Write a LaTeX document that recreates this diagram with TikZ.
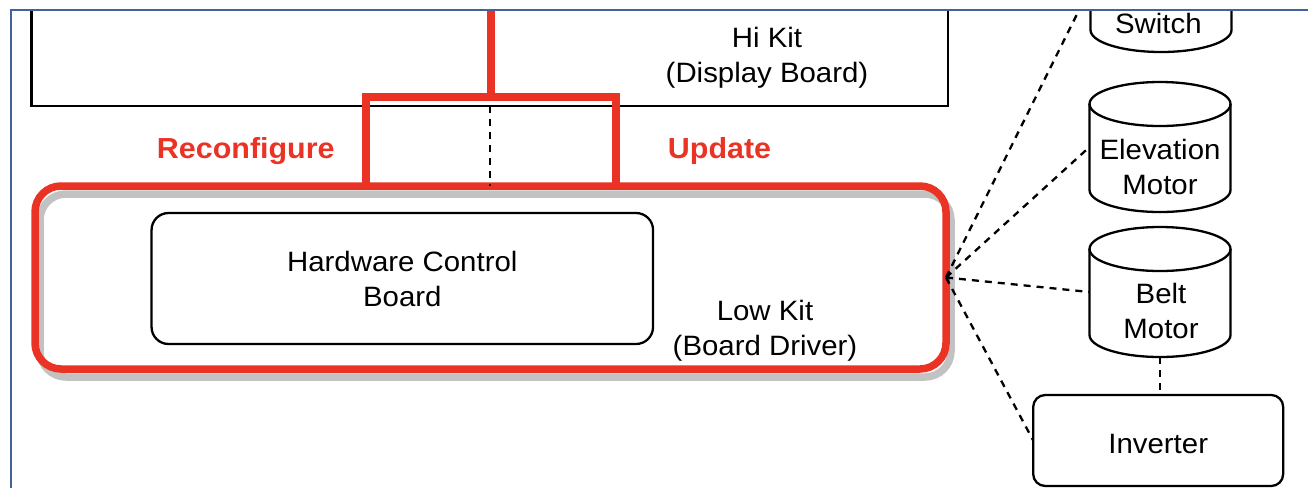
\documentclass[tikz,border=0pt]{standalone}
\usepackage{fontspec}
\setmainfont{Liberation Sans}[FakeStretch=1.05]
\usetikzlibrary{calc}
\pgfdeclarelayer{bg}
\pgfsetlayers{bg,main}
\definecolor{kitred}{RGB}{234,51,37}
\definecolor{frameblue}{RGB}{66,98,155}
\definecolor{shadowgray}{RGB}{194,194,194}
\newcommand{\drawcyl}[1]{%
  \draw[cylline] ($(#1.north west)+(0,22)$) -- ($(#1.south west)+(0,-22)$)
    arc[start angle=180, end angle=360, x radius=70.5pt, y radius=22pt]
    -- ($(#1.north east)+(0,22)$);
  \draw[cylline] ($(#1.north)+(0,22)$) ellipse[x radius=70.5pt, y radius=22pt];}
\begin{document}
\begin{tikzpicture}[x=1pt,y=-1pt,
  every node/.style={inner sep=0pt, outer sep=0pt, font=\fontsize{28}{35}\selectfont},
  box/.style={draw=black, line width=2.3pt},
  txt/.style={align=center},
  redlabel/.style={text=kitred, font=\fontsize{29}{35}\selectfont\bfseries},
  redline/.style={draw=kitred, line width=7.5pt},
  dashline/.style={draw=black, line width=2.3pt, dash pattern=on 7pt off 6pt},
  cylline/.style={draw=black, line width=2.3pt},
  hole/.style={minimum width=141pt, minimum height=130pt},
  framecolor/.style={draw=frameblue, line width=2pt},
]
\useasboundingbox (0,0) rectangle (1308,488);
\begin{scope}
\clip (11,11) rectangle (1308,488);
% Hi Kit
\node[box, minimum width=916.4pt, minimum height=156pt] (hikit) at (489.8,28) {};
\node[txt] (hikitlabel) at (767,57.45) {Hi Kit\\(Display Board)};
% Low Kit
\node[draw=kitred, line width=7.5pt, rounded corners=26pt,
      minimum width=911pt, minimum height=183pt] (lowkit) at (490.5,277.5) {};
\begin{pgfonlayer}{bg}
  \draw[shadowgray, line width=7.5pt, rounded corners=26pt]
    ($(lowkit.north west)+(5,8)$) rectangle ($(lowkit.south east)+(5,8)$);
\end{pgfonlayer}
\node[txt] (lowkitlabel) at (765,330.45) {Low Kit\\(Board Driver)};
\node[box, txt, rounded corners=17pt, minimum width=501.5pt, minimum height=131pt]
  (hcb) at (402.3,278.5) {Hardware Control\\Board};
% labels
\node[redlabel, anchor=base] (reconf) at (245.8,158.3) {Reconfigure};
\node[redlabel, anchor=base] (update) at (719.5,158.3) {Update};
% red connection
\coordinate (rtop) at (491,0);
\coordinate (rjoin) at (491,97);
\coordinate (rleft) at (366,186);
\coordinate (rright) at (616,186);
\draw[redline] (rtop) -- (rjoin);
\draw[redline, line join=miter] (rleft) |- (rjoin) -| (rright);
\draw[dashline] (hikit.south) -- (hikit.south |- lowkit.north);
% cylinders
\node[hole] (switch) at (1161,-13) {};
\node[hole] (elev) at (1160,147) {};
\node[hole] (belt) at (1160,292) {};
\drawcyl{switch}
\drawcyl{elev}
\drawcyl{belt}
\node[anchor=base] (switchlabel) at (1158.4,33) {Switch};
\node[txt] (elevlabel) at (1160,166.5) {Elevation\\Motor};
\node[txt] (beltlabel) at (1161,310.8) {Belt\\Motor};
% inverter
\node[box, rounded corners=12pt, minimum width=250pt, minimum height=91pt,
      text height=25pt, text depth=0pt] (inverter) at (1158.2,440.5) {Inverter};
% dashed connectors
\draw[dashline] (lowkit.east) -- (switch.west);
\draw[dashline] (lowkit.east) -- (elev.west);
\draw[dashline] (lowkit.east) -- (belt.west);
\draw[dashline] (lowkit.east) -- (inverter.west);
\draw[dashline] (belt.south) -- (belt.south |- inverter.north);
\end{scope}
\draw[framecolor] (10.5,488) -- (10.5,10) -- (1308,10);
\end{tikzpicture}
\end{document}
